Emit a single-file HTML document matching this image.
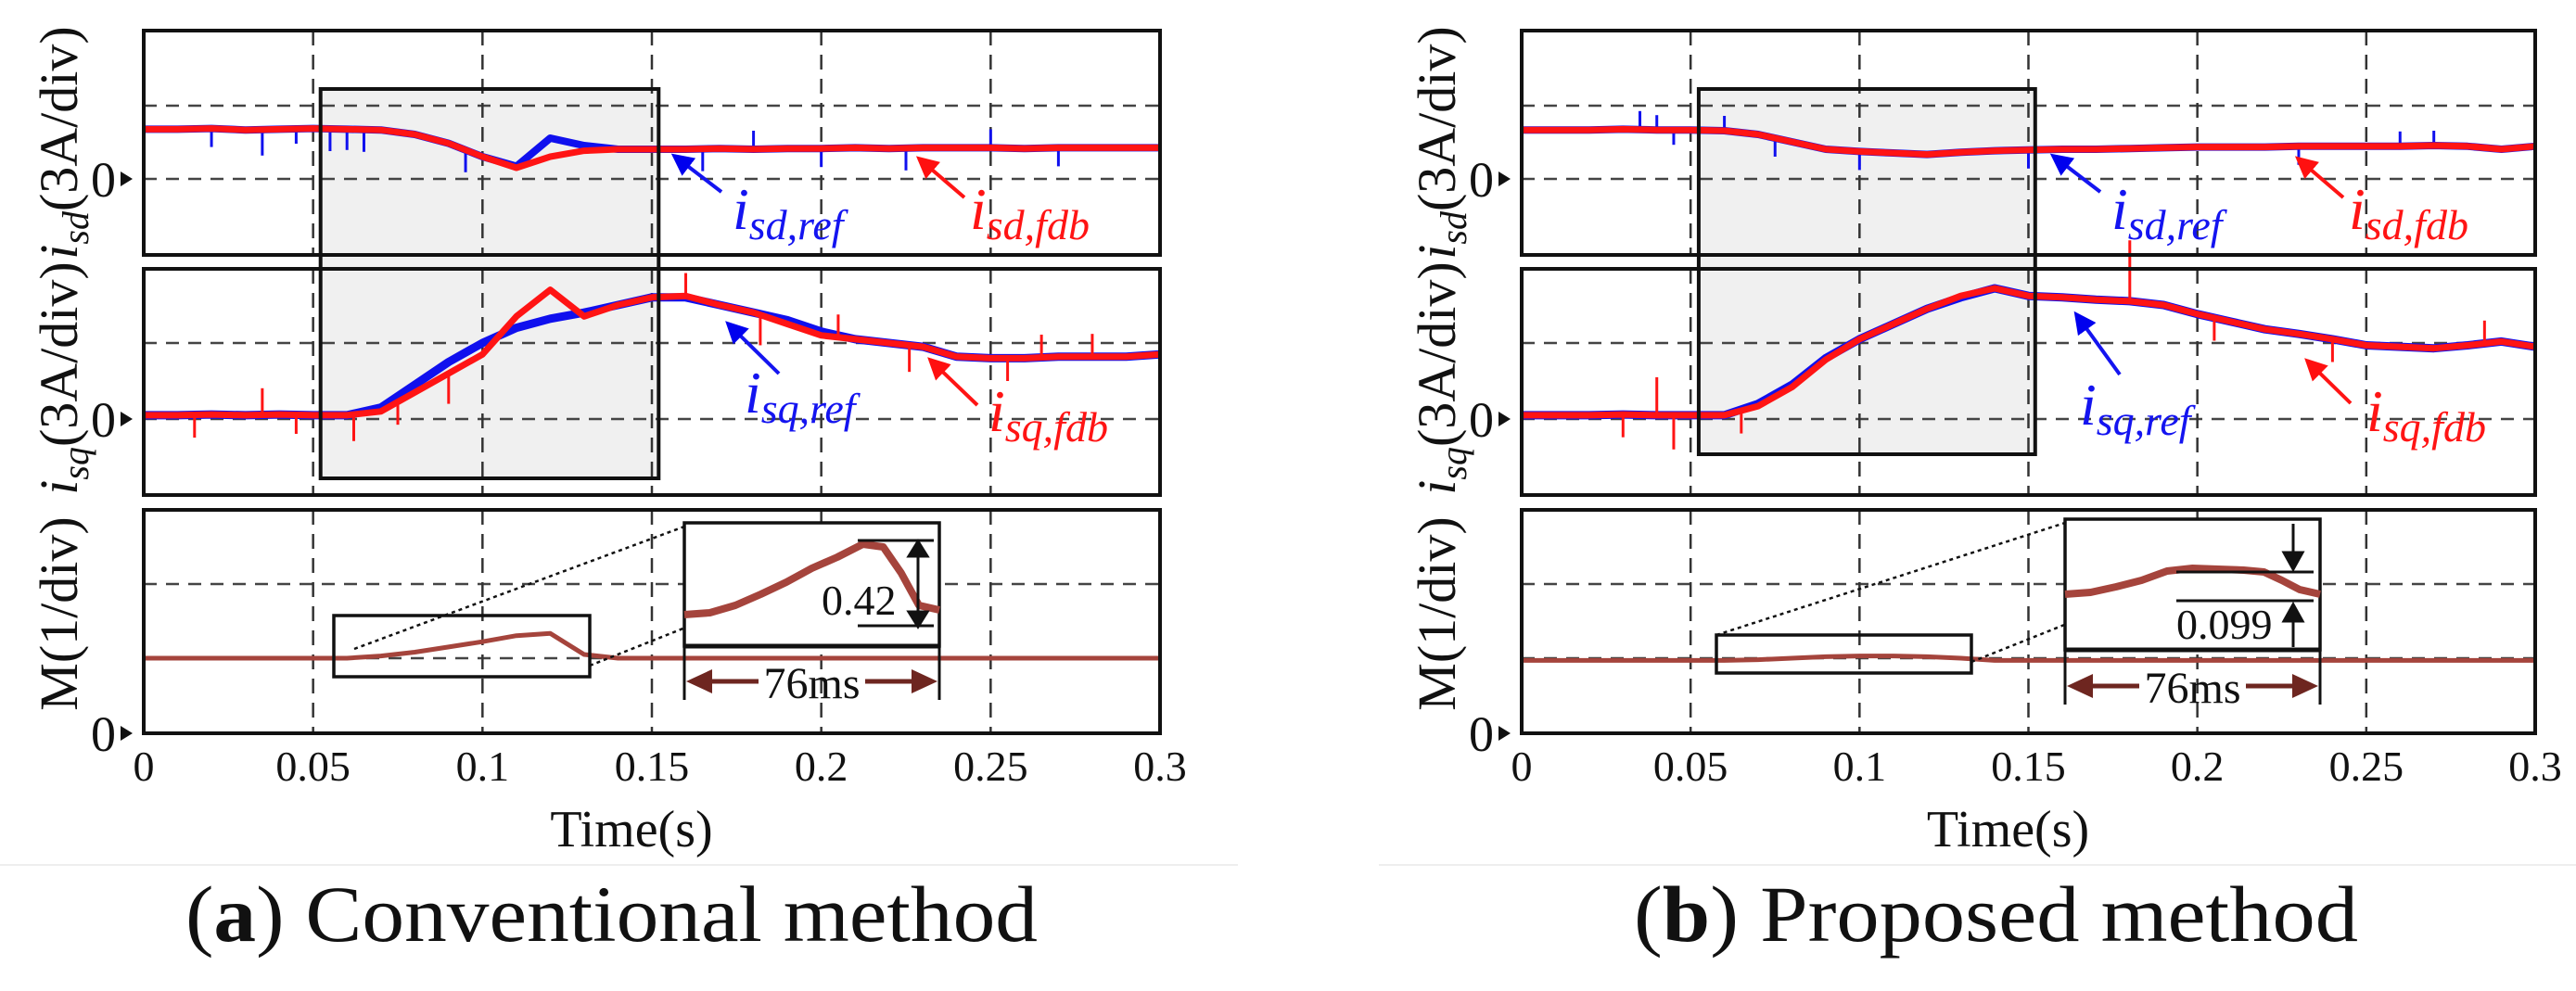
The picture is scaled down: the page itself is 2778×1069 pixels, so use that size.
<!DOCTYPE html>
<html><head><meta charset="utf-8">
<style>
html,body{margin:0;padding:0;background:#fff;}
svg{display:block;font-family:"Liberation Serif",serif;}
</style></head>
<body>
<svg id="fig" width="2778" height="1069" viewBox="0 0 2778 1069" xmlns="http://www.w3.org/2000/svg">
<defs>
<marker id="ab" markerWidth="6" markerHeight="6" refX="5" refY="3" orient="auto" markerUnits="strokeWidth"><path d="M0,0 L6,3 L0,6 z" fill="#0000ee"/></marker>
<marker id="ar" markerWidth="6" markerHeight="6" refX="5" refY="3" orient="auto" markerUnits="strokeWidth"><path d="M0,0 L6,3 L0,6 z" fill="#ff1010"/></marker>
</defs>
</svg>
<script>
// ---------- data ----------
const timeTicks = [0, 0.05, 0.1, 0.15, 0.2, 0.25, 0.3];
const tickLabels = ["0", "0.05", "0.1", "0.15", "0.2", "0.25", "0.3"];
const sampleT = [0,0.01,0.02,0.03,0.04,0.05,0.06,0.07,0.08,0.09,0.1,0.11,0.12,0.13,0.14,0.15,0.16,0.17,0.18,0.19,0.2,0.21,0.22,0.23,0.24,0.25,0.26,0.27,0.28,0.29,0.3];
// panel (a) conventional
const aIsdRef = [0.67,0.67,0.68,0.66,0.67,0.68,0.67,0.66,0.6,0.48,0.3,0.17,0.55,0.45,0.4,0.4,0.4,0.41,0.4,0.41,0.41,0.42,0.41,0.42,0.42,0.42,0.41,0.42,0.42,0.42,0.42];
const aIsdFdb = [0.67,0.67,0.68,0.66,0.67,0.68,0.67,0.66,0.6,0.48,0.3,0.15,0.3,0.38,0.4,0.4,0.4,0.41,0.4,0.41,0.41,0.42,0.41,0.42,0.42,0.42,0.41,0.42,0.42,0.42,0.42];
const aIsqRef = [0.05,0.05,0.06,0.05,0.06,0.05,0.05,0.15,0.45,0.75,1.0,1.2,1.32,1.4,1.5,1.6,1.6,1.5,1.4,1.3,1.15,1.05,1.0,0.95,0.82,0.8,0.8,0.82,0.82,0.82,0.85];
const aIsqFdb = [0.05,0.05,0.06,0.05,0.06,0.05,0.05,0.1,0.35,0.6,0.85,1.35,1.7,1.35,1.5,1.6,1.62,1.5,1.4,1.25,1.1,1.05,1.0,0.95,0.82,0.8,0.8,0.82,0.82,0.82,0.85];
const aM = [1.0,1.0,1.0,1.0,1.0,1.0,1.0,1.03,1.08,1.15,1.22,1.3,1.33,1.05,1.0,1.0,1.0,1.0,1.0,1.0,1.0,1.0,1.0,1.0,1.0,1.0,1.0,1.0,1.0,1.0,1.0];
// panel (b) proposed
const bIsdRef = [0.66,0.66,0.66,0.67,0.66,0.66,0.65,0.6,0.5,0.4,0.37,0.35,0.33,0.36,0.38,0.39,0.4,0.4,0.41,0.42,0.43,0.43,0.43,0.44,0.44,0.44,0.44,0.45,0.44,0.4,0.44];
const bIsdFdb = [0.66,0.66,0.66,0.67,0.66,0.66,0.65,0.6,0.5,0.4,0.37,0.35,0.33,0.36,0.38,0.39,0.4,0.4,0.41,0.42,0.43,0.43,0.43,0.44,0.44,0.44,0.44,0.45,0.44,0.4,0.44];
const bIsqRef = [0.05,0.05,0.05,0.06,0.05,0.05,0.05,0.2,0.45,0.8,1.05,1.25,1.45,1.6,1.72,1.62,1.6,1.57,1.55,1.5,1.38,1.28,1.18,1.12,1.05,0.97,0.95,0.93,0.97,1.02,0.95];
const bIsqFdb = [0.05,0.05,0.05,0.06,0.05,0.05,0.05,0.17,0.42,0.78,1.05,1.25,1.45,1.62,1.72,1.62,1.6,1.57,1.55,1.5,1.38,1.28,1.18,1.12,1.05,0.97,0.95,0.93,0.97,1.02,0.95];
const bM = [0.97,0.97,0.97,0.97,0.97,0.97,0.97,0.98,1.0,1.02,1.03,1.03,1.02,1.0,0.97,0.97,0.97,0.97,0.97,0.97,0.97,0.97,0.97,0.97,0.97,0.97,0.97,0.97,0.97,0.97,0.97];
// noise spikes [time, offset in div]
const aSpikeBlueT = [0.02,0.035,0.045,0.055,0.06,0.065,0.095,0.165,0.18,0.2,0.225,0.25,0.27];
const aSpikeBlueV = [-0.25,-0.35,-0.2,-0.3,-0.28,-0.3,-0.3,-0.3,0.25,-0.25,-0.3,0.25,-0.25];
const aSpikeRedT = [0.015,0.035,0.045,0.062,0.075,0.09,0.16,0.182,0.205,0.226,0.255,0.265,0.28];
const aSpikeRedV = [-0.3,0.35,-0.25,-0.35,-0.3,-0.4,0.3,-0.4,0.3,-0.35,-0.3,0.3,0.3];
const bSpikeBlueT = [0.035,0.04,0.045,0.06,0.075,0.1,0.15,0.23,0.26,0.27];
const bSpikeBlueV = [0.25,0.2,-0.2,0.2,-0.25,-0.25,-0.25,-0.25,0.2,0.2];
const bSpikeRedT = [0.03,0.04,0.045,0.065,0.18,0.205,0.24,0.285,0.3];
const bSpikeRedV = [-0.3,0.5,-0.45,-0.3,0.8,-0.3,-0.3,0.3,-0.35];
// zoomed inset traces (fraction of 76 ms window, magnified M value)
const insetFrac = [0,0.1,0.2,0.3,0.4,0.5,0.6,0.7,0.78,0.85,0.92,1];
const aInsetM = [0.0,0.02,0.1,0.22,0.35,0.5,0.62,0.76,0.73,0.45,0.1,0.05];
const bInsetM = [0.0,0.02,0.08,0.15,0.25,0.28,0.27,0.26,0.24,0.15,0.05,0.0];
</script>
<script>
const svg = document.getElementById('fig');
const NS = 'http://www.w3.org/2000/svg';
function mk(tag, attrs, parent){ const e=document.createElementNS(NS,tag); for(const k in attrs) e.setAttribute(k,attrs[k]); (parent||svg).appendChild(e); return e; }

const panels = [
  {top:33, bot:275, zero:193, div:80},
  {top:290, bot:534, zero:452, div:82},
  {top:550, bot:791, zero:791, div:81}
];
const gridY = [[114,193],[370,452],[630,710]];

function drawFigure(cfg){
  const L = cfg.left, W = cfg.width;
  const X = t => L + t/0.3*W;
  const Y = (p,v) => panels[p].zero - v*panels[p].div;
  const g = mk('g',{});
  
  
  const gb = mk('rect',{x:X(cfg.boxT0),y:96,width:X(cfg.boxT1)-X(cfg.boxT0),height:cfg.boxBot-96,fill:'#f0f0f0'},g);
  
  
  panels.forEach((p,i)=>{
    gridY[i].forEach(y=>{ const l=mk('line',{x1:L,x2:L+W,y1:y,y2:y,stroke:'#444','stroke-width':2.5,'stroke-dasharray':'14 10'},g);
        });
    timeTicks.slice(1,-1).forEach(t=>{ const l=mk('line',{x1:X(t),x2:X(t),y1:p.top,y2:p.bot,stroke:'#333','stroke-width':2.5,'stroke-dasharray':'16 10'},g);
        });
  });
  function series(p, arr, color, w, name, spT, spV){
    let d='';
    arr.forEach((v,i)=>{ d += (i?'L':'M')+X(sampleT[i]).toFixed(1)+','+Y(p,v).toFixed(1); });
    const path = mk('path',{d:d,fill:'none',stroke:color,'stroke-width':w,'stroke-linejoin':'round'},g);
    
    
    if(spT){
      spT.forEach((t,k)=>{
        const i=Math.min(sampleT.length-2,Math.floor(t/0.01)); const f=(t-sampleT[i])/0.01;
        const base=arr[i]*(1-f)+arr[i+1]*f;
        const s=mk('line',{x1:X(t),x2:X(t),y1:Y(p,base),y2:Y(p,base+spV[k]),stroke:color,'stroke-width':3},g);
        
        
      });
    }
  }
  series(0,cfg.isdRef,'#1010ee',8,'isd-ref-trace',cfg.sbT,cfg.sbV);
  series(0,cfg.isdFdb,'#ff1414',7,'isd-fdb-trace');
  series(1,cfg.isqRef,'#1010ee',9,'isq-ref-trace');
  series(1,cfg.isqFdb,'#ff1414',7,'isq-fdb-trace',cfg.srT,cfg.srV);
  series(2,cfg.m,'#a5443c',5,'m-trace');
  panels.forEach((p,i)=>{
    const r=mk('rect',{x:L,y:p.top,width:W,height:p.bot-p.top,fill:'none',stroke:'#111','stroke-width':4},g);
    
    
    const zy = p.zero;
    const z=mk('text',{x:L-30,y:zy+19,'font-size':54,'text-anchor':'end',fill:'#111'},g); z.textContent='0';
     
    const tri=mk('path',{d:`M${L-25},${zy-8} L${L-12},${zy} L${L-25},${zy+8} z`,fill:'#111'},g);
     
  });
  const gbo = mk('rect',{x:X(cfg.boxT0),y:96,width:X(cfg.boxT1)-X(cfg.boxT0),height:cfg.boxBot-96,fill:'none',stroke:'#111','stroke-width':4},g);
  
  
  timeTicks.forEach((t,i)=>{ const tx=mk('text',{x:X(t),y:842,'font-size':46,'text-anchor':'middle',fill:'#111'},g); tx.textContent=tickLabels[i];
      });
  const xt=mk('text',{x:L+W/2-22,y:913,'font-size':56,'text-anchor':'middle',fill:'#111'},g); xt.textContent='Time(s)';
   
  const yx = L-92;
  function ytitle(cy, html, name){
    const t=mk('text',{x:0,y:0,'font-size':58,'text-anchor':'middle',fill:'#111',transform:`translate(${yx+20},${cy}) rotate(-90)`},g);
    t.innerHTML=html;
     
  }
  ytitle(154,'<tspan font-style="italic">i</tspan><tspan font-style="italic" font-size="40" dy="12">sd</tspan><tspan dy="-12">(3A/div)</tspan>','isd-axis-title');
  ytitle(408,'<tspan font-style="italic">i</tspan><tspan font-style="italic" font-size="40" dy="12">sq</tspan><tspan dy="-12">(3A/div)</tspan>','isq-axis-title');
  ytitle(662,'M(1/div)','m-axis-title');
  function lab(x,y,sub,color,name){
    const t=mk('text',{x:x,y:y,'font-size':64,'font-style':'italic',fill:color},g);
    t.innerHTML=`i<tspan font-size="46" dy="11">${sub}</tspan>`;
     
  }
  function arr(x1,y1,x2,y2,color,mid,name){
    const a=mk('line',{x1:x1,y1:y1,x2:x2,y2:y2,stroke:color,'stroke-width':4,'marker-end':`url(#${mid})`},g);
     
  }
  cfg.labels.forEach(l=>{ lab(l.x,l.y,l.sub,l.c,l.name); arr(l.ax,l.ay,l.tx,l.ty,l.c,l.c==='#1414f0'?'ab':'ar',l.name+'-arrow'); });
  const sb=cfg.small, ib=cfg.inset;
  const sr=mk('rect',{x:sb[0],y:sb[1],width:sb[2]-sb[0],height:sb[3]-sb[1],fill:'none',stroke:'#111','stroke-width':3.5},g);
   
  const d1=mk('line',{x1:sb[0]+cfg.dotOff,y1:sb[1]+cfg.dotOffY,x2:ib[0],y2:ib[1]+4,stroke:'#111','stroke-width':2.5,'stroke-dasharray':'4 4'},g);
   
  const d2=mk('line',{x1:sb[2],y1:sb[3]-12,x2:ib[2],y2:ib[1]+4,stroke:'#111','stroke-width':2.5,'stroke-dasharray':'4 4'},g);
   
  const ir=mk('rect',{x:ib[0],y:ib[1],width:ib[2]-ib[0],height:ib[3]-ib[1],fill:'#fff',stroke:'#111','stroke-width':3.5},g);
   
  mk('line',{x1:ib[0],x2:ib[2],y1:ib[3],y2:ib[3],stroke:'#111','stroke-width':5},g);
  let d='';
  cfg.insetM.forEach((v,i)=>{ d+=(i?'L':'M')+(ib[0]+insetFrac[i]*(ib[2]-ib[0])).toFixed(1)+','+(cfg.insetBase - v*100).toFixed(1); });
  const it=mk('path',{d:d,fill:'none',stroke:'#a5443c','stroke-width':8,'stroke-linejoin':'round'},g);
   
  const dy=cfg.dimY;
  mk('line',{x1:ib[0],x2:ib[0],y1:ib[3],y2:dy+20,stroke:'#111','stroke-width':3},g);
  mk('line',{x1:ib[2],x2:ib[2],y1:ib[3],y2:dy+20,stroke:'#111','stroke-width':3},g);
  mk('line',{x1:ib[0]+20,x2:ib[0]+80,y1:dy,y2:dy,stroke:'#6e2620','stroke-width':5},g);
  mk('line',{x1:ib[2]-20,x2:ib[2]-80,y1:dy,y2:dy,stroke:'#6e2620','stroke-width':5},g);
  mk('path',{d:`M${ib[0]+2},${dy} L${ib[0]+30},${dy-13} L${ib[0]+30},${dy+13} z`,fill:'#6e2620'},g);
  mk('path',{d:`M${ib[2]-2},${dy} L${ib[2]-30},${dy-13} L${ib[2]-30},${dy+13} z`,fill:'#6e2620'},g);
  const ms=mk('text',{x:(ib[0]+ib[2])/2,y:dy+18,'font-size':48,'text-anchor':'middle',fill:'#111'},g); ms.textContent='76ms';
   
  const a=cfg.amp;
  mk('line',{x1:a.lx1,x2:a.lx2,y1:a.y1,y2:a.y1,stroke:'#111','stroke-width':3},g);
  mk('line',{x1:a.lx1,x2:a.lx2,y1:a.y2,y2:a.y2,stroke:'#111','stroke-width':3},g);
  a.paths.forEach(p=>mk('path',{d:p,fill:'#111',stroke:'#111','stroke-width':3},g));
  const at=mk('text',{x:a.tx,y:a.ty,'font-size':46,fill:'#111'},g); at.textContent=a.text;
   
  mk('line',{x1:cfg.sepX1,x2:cfg.sepX2,y1:933,y2:933,stroke:'#eeeeee','stroke-width':2},g);
  const cap=mk('text',{x:cfg.capX,y:1015,'font-size':86,fill:'#111',textLength:cfg.capW,lengthAdjust:'spacingAndGlyphs'},g);
  cap.innerHTML=`(<tspan font-weight="bold">${cfg.capL}</tspan>) ${cfg.capT}`;
   
}

drawFigure({name:'figure-a-conventional', left:155, width:1096, boxT0:0.0522, boxT1:0.152, boxBot:516,
  isdRef:aIsdRef, isdFdb:aIsdFdb, isqRef:aIsqRef, isqFdb:aIsqFdb, m:aM, insetM:aInsetM,
  sbT:aSpikeBlueT, sbV:aSpikeBlueV, srT:aSpikeRedT, srV:aSpikeRedV,
  labels:[
    {x:790,y:247,sub:'sd,ref',c:'#1414f0',name:'isd-ref-label',ax:778,ay:207,tx:727,ty:168},
    {x:1046,y:247,sub:'sd,fdb',c:'#ff1414',name:'isd-fdb-label',ax:1040,ay:213,tx:991,ty:171},
    {x:803,y:445,sub:'sq,ref',c:'#1414f0',name:'isq-ref-label',ax:840,ay:403,tx:785,ty:349},
    {x:1066,y:465,sub:'sq,fdb',c:'#ff1414',name:'isq-fdb-label',ax:1054,ay:437,tx:1003,ty:388}],
  small:[360,664,636,730], inset:[738,564,1013,697], insetBase:663, dotOff:22, dotOffY:36, dimY:735,
  amp:{lx1:925,lx2:1007,y1:583,y2:675,tx:886,ty:663,text:'0.42',
       paths:['M990,590 L990,668','M980,600 L990,584 L1000,600 z','M980,660 L990,676 L1000,660 z']},
  sepX1:0, sepX2:1335, capX:200, capW:919, capL:'a', capT:'Conventional method'});

drawFigure({name:'figure-b-proposed', left:1641, width:1093, boxT0:0.0524, boxT1:0.152, boxBot:490,
  isdRef:bIsdRef, isdFdb:bIsdFdb, isqRef:bIsqRef, isqFdb:bIsqFdb, m:bM, insetM:bInsetM,
  sbT:bSpikeBlueT, sbV:bSpikeBlueV, srT:bSpikeRedT, srV:bSpikeRedV,
  labels:[
    {x:2277,y:247,sub:'sd,ref',c:'#1414f0',name:'isd-ref-label',ax:2265,ay:207,tx:2214,ty:168},
    {x:2533,y:247,sub:'sd,fdb',c:'#ff1414',name:'isd-fdb-label',ax:2527,ay:213,tx:2478,ty:171},
    {x:2243,y:458,sub:'sq,ref',c:'#1414f0',name:'isq-ref-label',ax:2286,ay:404,tx:2239,ty:339},
    {x:2552,y:465,sub:'sq,fdb',c:'#ff1414',name:'isq-fdb-label',ax:2535,ay:435,tx:2488,ty:389}],
  small:[1851,685,2126,726], inset:[2227,560,2502,701], insetBase:641, dotOff:0, dotOffY:0, dimY:740,
  amp:{lx1:2347,lx2:2495,y1:617,y2:648,tx:2347,ty:689,text:'0.099',
       paths:['M2473,565 L2473,610','M2463,596 L2473,614 L2483,596 z','M2473,698 L2473,656','M2463,670 L2473,652 L2483,670 z']},
  sepX1:1487, sepX2:2778, capX:1762, capW:781, capL:'b', capT:'Proposed method'});
</script>
</body></html>
